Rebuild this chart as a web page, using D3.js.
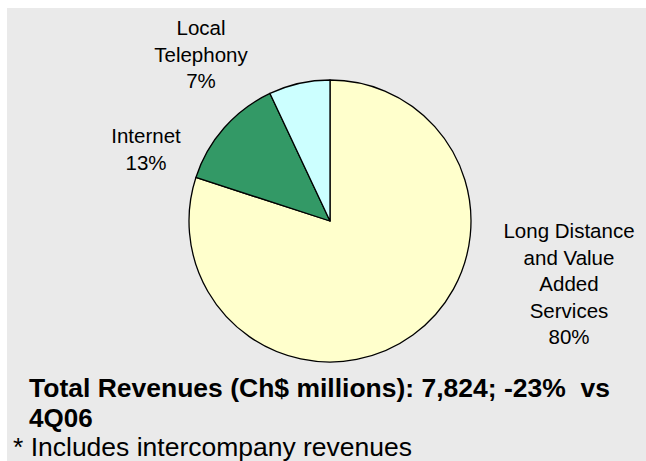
<!DOCTYPE html>
<html>
<head>
<meta charset="utf-8">
<script src="https://cdn.jsdelivr.net/npm/d3@7"></script>
<style>
  html, body { margin: 0; padding: 0; background: #ffffff; }
  svg { display: block; }
  text { font-family: Arial, "Liberation Sans", sans-serif; fill: #000; }
</style>
</head>
<body>
<script>
// Revenue breakdown by business line (share of total, %)
const categories = ["Long Distance and Value Added Services", "Internet", "Local Telephony"];
const shares = [80, 13, 7];
const labelLines = [
  ["Long Distance", "and Value", "Added", "Services"],
  ["Internet"],
  ["Local", "Telephony"]
];
const sliceColors = ["#ffffcc", "#339966", "#ccffff"];
const titleLines = ["Total Revenues (Ch$ millions): 7,824; -23%  vs", "4Q06"];
const footnote = "* Includes intercompany revenues";

const W = 646, H = 461;
const cx = 330, cy = 221, radius = 141;

const svg = d3.select("body").append("svg")
  .attr("width", W).attr("height", H);

// panel background
svg.append("rect")
  .attr("x", 7).attr("y", 8)
  .attr("width", W - 7).attr("height", H - 8)
  .attr("fill", "#eaeaea");

const pie = d3.pie().sort(null).value(d => d)(shares);
const arc = d3.arc().innerRadius(0).outerRadius(radius);

const g = svg.append("g").attr("transform", `translate(${cx},${cy})`);

g.selectAll("path.slice")
  .data(pie)
  .join("path")
  .attr("class", "slice")
  .attr("d", arc)
  .attr("fill", (d, i) => sliceColors[i])
  .attr("stroke", "#000")
  .attr("stroke-width", 1.3)
  .attr("stroke-linejoin", "round");

// label anchors: centre x and baseline of the first line, relative to pie centre
const labelAnchor = [
  { dx: 239, dy: 17 },
  { dx: -184, dy: -78 },
  { dx: -129, dy: -186 }
];
const lineH = 26.5;

pie.forEach((d, i) => {
  const lines = labelLines[i].concat([d3.format(".0f")(d.value) + "%"]);
  const t = g.append("text")
    .attr("text-anchor", "middle")
    .attr("font-size", 20.5);
  lines.forEach((s, k) => {
    t.append("tspan")
      .attr("x", labelAnchor[i].dx)
      .attr("y", labelAnchor[i].dy + k * lineH)
      .text(s);
  });
});

// summary title (two lines)
titleLines.forEach((s, k) => {
  const t = svg.append("text")
    .attr("x", 29)
    .attr("y", 397 + k * 30)
    .attr("font-size", 26)
    .attr("font-weight", "bold")
    .attr("xml:space", "preserve")
    .style("white-space", "pre")
    .text(s);
  if (k === 0) t.attr("textLength", 581).attr("lengthAdjust", "spacingAndGlyphs");
});

svg.append("text")
  .attr("x", 13)
  .attr("y", 456)
  .attr("font-size", 25)
  .attr("textLength", 399)
  .attr("lengthAdjust", "spacingAndGlyphs")
  .text(footnote);
</script>
</body>
</html>
